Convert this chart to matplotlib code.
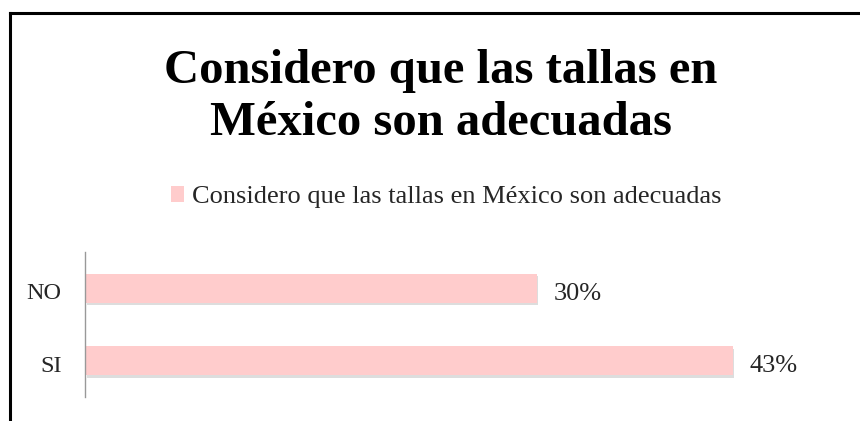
import matplotlib
matplotlib.use("Agg")
import matplotlib.pyplot as plt
from matplotlib.lines import Line2D
import matplotlib.transforms as mtransforms

categories = ["SI", "NO"]
values = [43, 30]
value_labels = ["43%", "30%"]
title_lines = ["Considero que las tallas en", "México son adecuadas"]
series_name = "Considero que las tallas en México son adecuadas"

W, H = 860, 421
fig = plt.figure(figsize=(W / 100, H / 100), dpi=100)
fig.patch.set_facecolor("white")

# frame lines (top and left)
fig.add_artist(Line2D([10 / W, 1], [1 - 13 / H, 1 - 13 / H], color="black", lw=2.2, transform=fig.transFigure))
fig.add_artist(Line2D([10 / W, 10 / W], [0, 1 - 13 / H], color="black", lw=2.2, transform=fig.transFigure))

ax = fig.add_axes([85 / W, 1 - 397 / H, 753 / W, 145 / H])
ypos = list(range(len(categories)))
bar_color = "#FFCCCC"
# shadow
ax.barh([y - 0.035 for y in ypos], values, height=0.4, color="#dddddd", zorder=1, left=0.1)
bars = ax.barh(ypos, values, height=0.4, color=bar_color, zorder=2, label=series_name)
for y, v, lab in zip(ypos, values, value_labels):
    ax.annotate(lab, (v, y), xytext=(12, -4), textcoords="offset points",
                va="center", ha="left", fontsize=19, family="Liberation Serif", color="#262626")

ax.set_xlim(0, 50)
ax.set_ylim(-0.5, 1.5)
ax.set_yticks(ypos)
ax.set_yticklabels(categories, family="Liberation Serif", fontsize=17.5, color="#262626")
ax.tick_params(axis="y", length=0, pad=17)
offset = mtransforms.ScaledTranslation(0, -2 / 72, fig.dpi_scale_trans)
for lbl in ax.get_yticklabels():
    lbl.set_transform(lbl.get_transform() + offset)
ax.set_xticks([])
for s in ["top", "right", "bottom"]:
    ax.spines[s].set_visible(False)
ax.spines["left"].set_color("#999999")
ax.spines["left"].set_linewidth(1)

for txt, base in zip(title_lines, [83, 135]):
    fig.text(441 / W, 1 - base / H, txt, ha="center", va="baseline", fontsize=35,
             fontweight="bold", family="Liberation Serif", color="black")

leg = fig.legend(handles=[bars], labels=[series_name], loc="center",
                 bbox_to_anchor=(446 / W, 1 - 197 / H), frameon=False,
                 prop={"family": "Liberation Serif", "size": 19},
                 handlelength=0.5, handleheight=0.55, handletextpad=0.3)
for t in leg.get_texts():
    t.set_color("#262626")

fig.savefig("out.png", dpi=100)
